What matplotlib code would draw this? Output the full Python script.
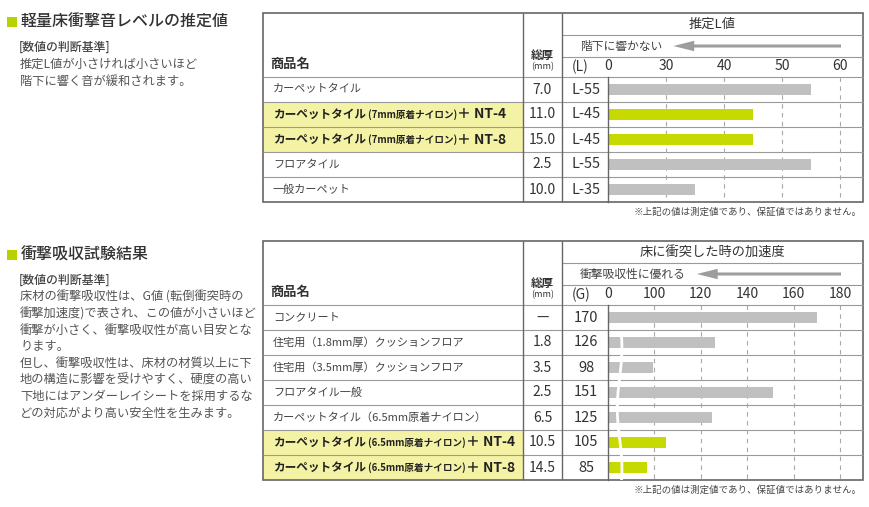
import numpy as np
import matplotlib
matplotlib.use("Agg")
import matplotlib.pyplot as plt
from matplotlib.patches import Rectangle

plt.rcParams['font.family'] = ['Noto Sans CJK JP', 'DejaVu Sans']

# ---------- data ----------
# 軽量床衝撃音レベル
l_names = ['カーペットタイル',
           'カーペットタイル（7mm原着ナイロン）＋ NT-4',
           'カーペットタイル（7mm原着ナイロン）＋ NT-8',
           'フロアタイル',
           '一般カーペット']
l_thick = ['7.0', '11.0', '15.0', '2.5', '10.0']
l_values = [55, 45, 45, 55, 35]
l_hilite = [False, True, True, False, False]
l_ticks = [0, 30, 40, 50, 60]
l_break = 30        # 0〜30 は省略表示

# 衝撃吸収試験 (G値)
g_names = ['コンクリート',
           '住宅用（1.8mm厚）クッションフロア',
           '住宅用（3.5mm厚）クッションフロア',
           'フロアタイル一般',
           'カーペットタイル（6.5mm原着ナイロン）',
           'カーペットタイル（6.5mm原着ナイロン）＋ NT-4',
           'カーペットタイル（6.5mm原着ナイロン）＋ NT-8']
g_thick = ['—', '1.8', '3.5', '2.5', '6.5', '10.5', '14.5']
g_values = [170, 126, 98, 151, 125, 105, 85]
g_hilite = [False, False, False, False, False, True, True]
g_ticks = [0, 100, 120, 140, 160, 180]
g_break = 100       # 0〜100 は省略表示

GREEN = '#c6da00'
GRAY = '#c0c0c0'
YELLOW = '#f4f2a4'
TXT = '#333333'

W, H = 870, 507
fig = plt.figure(figsize=(W / 100, H / 100), dpi=100)
bg = fig.add_axes([0, 0, 1, 1])
bg.set_xlim(0, W)
bg.set_ylim(H, 0)
bg.axis('off')

# table columns (px)
X0, XC1, XC2, XB, X1 = 263, 523, 562, 608, 863
ROW = 25


def left_text(top, title, body, size):
    bg.add_patch(Rectangle((7, top - 5), 10, 10, color='#b8d200', lw=0))
    bg.text(21, top, title, fontsize=11.5, color=TXT, va='center', weight='medium')
    bg.text(19, top + 25, '[数値の判断基準]', fontsize=8.6, color='#444', va='center',
            weight='medium')
    step = 17 if len(body) < 3 else 16.6
    for i, line in enumerate(body):
        bg.text(20, top + 42 + i * step, line, fontsize=size, color='#555', va='center')


def name_cell(y, name, hi):
    if not hi:
        bg.text(273, y, name, fontsize=8, color='#444', va='center')
        return
    a, rest = name.split('（')
    b, c = rest.split('）')
    t1 = bg.text(273, y, a, fontsize=8.4, color='#222', va='center', weight='bold')
    t2 = bg.annotate(' (' + b + ')', xy=(1, 0.5), xycoords=t1, va='center',
                     fontsize=6.9, color='#222', weight='bold')
    bg.annotate(c, xy=(1, 0.5), xycoords=t2, va='center', fontsize=10,
                color='#222', weight='bold')


def broken_scale(brk, seg):
    # 0〜brk を seg 目盛り分に縮める区分線形スケール
    def fwd(v):
        v = np.asarray(v, dtype=float)
        return np.where(v < brk, v * seg / brk, seg + (v - brk))

    def inv(u):
        u = np.asarray(u, dtype=float)
        return np.where(u < seg, u * brk / seg, brk + (u - seg))
    return fwd, inv


def table(top, names, thick, vals, hilite, head, arrow_txt, unit, ticks, brk, seg):
    n = len(names)
    hb = top + 64
    bottom = hb + n * ROW

    for i, h in enumerate(hilite):
        if h:
            bg.add_patch(Rectangle((X0, hb + i * ROW), XC1 - X0, ROW,
                                   color=YELLOW, lw=0, zorder=0))
    bg.hlines([top + 22, top + 44], XC2, X1, color='#999', lw=0.8)
    bg.hlines([hb + i * ROW for i in range(n)], X0, X1, color='#9a9a9a', lw=0.8)
    bg.vlines([XC1, XC2], top, bottom, color='#666', lw=1)
    bg.add_patch(Rectangle((X0, top), X1 - X0, bottom - top, fill=False,
                           ec='#666', lw=1.2))

    # header
    bg.text(270, top + 51, '商品名', fontsize=9.5, weight='bold', color=TXT, va='center')
    bg.text((XC1 + XC2) / 2, top + 42, '総厚', fontsize=8.3, weight='bold',
            color=TXT, ha='center', va='center')
    bg.text((XC1 + XC2) / 2, top + 54, '(mm)', fontsize=6.5, color=TXT,
            ha='center', va='center')
    bg.text((XC2 + X1) / 2, top + 11, head, fontsize=9.5, color=TXT,
            ha='center', va='center')
    at = bg.text(580, top + 33, arrow_txt, fontsize=8.5, color='#444', va='center')
    bg.annotate('', xy=(1, 0.5), xycoords=at, xytext=(841, top + 33), textcoords='data',
                arrowprops=dict(arrowstyle='simple,head_length=1.5,head_width=0.75,tail_width=0.22',
                                fc='#9d9d9d', ec='none', mutation_scale=10,
                                shrinkA=0, shrinkB=8))
    bg.text(572, top + 54, unit, fontsize=10, color=TXT, va='center')

    for i in range(n):
        yc = hb + i * ROW + ROW / 2
        name_cell(yc, names[i], hilite[i])
        bg.text((XC1 + XC2) / 2, yc, thick[i], fontsize=10, color=TXT,
                ha='center', va='center')
        lab = 'L-%d' % vals[i] if unit == '(L)' else str(vals[i])
        bg.text((XC2 + XB) / 2 + 1, yc, lab, fontsize=10.5, color=TXT,
                ha='center', va='center')

    # bar chart
    ax = fig.add_axes([XB / W, 1 - bottom / H, (X1 - XB) / W, (bottom - hb) / H])
    ax.patch.set_alpha(0)
    fwd, inv = broken_scale(brk, seg)
    ax.set_xscale('function', functions=(fwd, inv))
    umax = float(fwd(ticks[-1])) * (X1 - XB) / 232
    ax.set_xlim(0, float(inv(umax)))
    ax.set_ylim(n - 0.5, -0.5)
    y = np.arange(n)
    cols = [GREEN if h else GRAY for h in hilite]
    ax.barh(y, vals, left=0, height=0.44, color=cols, zorder=2)
    ax.vlines(ticks[1:], -0.5, n - 0.5, colors='#a8a8a8', lw=0.8,
              linestyles=(0, (4, 4)), zorder=1)
    ax.set_xticks(ticks, [str(t) for t in ticks])
    ax.xaxis.set_minor_locator(plt.NullLocator())
    ax.xaxis.tick_top()
    ax.tick_params(axis='x', length=0, pad=3, labelsize=10, labelcolor=TXT)
    ax.set_yticks([])
    for s in ['top', 'right', 'bottom']:
        ax.spines[s].set_visible(False)
    ax.spines['left'].set_color('#666')
    ax.spines['left'].set_linewidth(1)

    bg.text(862, bottom + 10, '※上記の値は測定値であり、保証値ではありません。',
            fontsize=6.8, color='#444', ha='right', va='center')
    return ax


left_text(22, '軽量床衝撃音レベルの推定値',
          ['推定L値が小さければ小さいほど', '階下に響く音が緩和されます。'], 8.8)
left_text(255, '衝撃吸収試験結果',
          ['床材の衝撃吸収性は、G値 (転倒衝突時の',
           '衝撃加速度)で表され、この値が小さいほど',
           '衝撃が小さく、衝撃吸収性が高い目安とな',
           'ります。',
           '但し、衝撃吸収性は、床材の材質以上に下',
           '地の構造に影響を受けやすく、硬度の高い',
           '下地にはアンダーレイシートを採用するな',
           'どの対応がより高い安全性を生みます。'], 8.8)

table(13, l_names, l_thick, l_values, l_hilite, '推定L値', '階下に響かない',
      '(L)', l_ticks, l_break, 10)
axg = table(241, g_names, g_thick, g_values, g_hilite, '床に衝突した時の加速度',
            '衝撃吸収性に優れる', '(G)', g_ticks, g_break, 20)

# 軸省略を示す白い波線
yy = np.linspace(0.6, len(g_values) - 0.5, 40)
axg.plot(25 + 5 * np.sin(yy * 1.3), yy, color='white', lw=2, zorder=3)

fig.savefig('out.png', dpi=100)
